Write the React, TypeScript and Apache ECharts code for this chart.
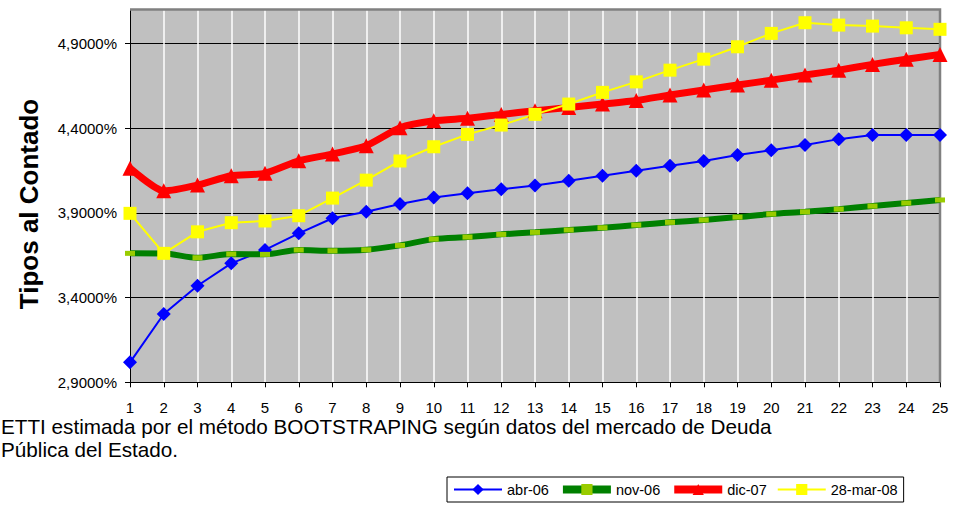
import React, { useEffect, useRef } from "react";
import * as echarts from "echarts";

const categories = ["1","2","3","4","5","6","7","8","9","10","11","12","13","14","15","16","17","18","19","20","21","22","23","24","25"];

const seriesNames = ["abr-06", "nov-06", "dic-07", "28-mar-08"];

const abr06 = [3.018,3.303,3.470,3.602,3.681,3.779,3.868,3.907,3.952,3.990,4.015,4.039,4.062,4.089,4.119,4.148,4.178,4.206,4.241,4.270,4.300,4.335,4.359,4.359,4.359];
const nov06 = [3.661,3.660,3.635,3.657,3.655,3.681,3.676,3.682,3.708,3.745,3.757,3.773,3.785,3.799,3.812,3.828,3.844,3.858,3.875,3.893,3.906,3.922,3.940,3.958,3.976];
const dic07 = [4.163,4.030,4.064,4.119,4.133,4.207,4.247,4.296,4.402,4.443,4.458,4.481,4.502,4.522,4.542,4.563,4.595,4.625,4.654,4.683,4.713,4.742,4.776,4.806,4.835];
const mar08 = [3.897,3.661,3.788,3.842,3.852,3.883,3.987,4.093,4.206,4.290,4.363,4.418,4.481,4.542,4.611,4.673,4.742,4.807,4.880,4.959,5.022,5.008,5.002,4.992,4.983];

const yMin = 2.9;
const yMax = 5.1;
const yStep = 0.5;

const yTitle = "Tipos al Contado";
const captionLines = [
  "ETTI estimada por el método BOOTSTRAPING según datos del mercado de Deuda",
  "Pública del Estado.",
];

const FONT = "'Liberation Sans', Arial, sans-serif";

export default function App() {
  const ref = useRef<HTMLDivElement>(null);
  useEffect(() => {
    if (!ref.current) return;
    const chart = echarts.init(ref.current, undefined, { renderer: "svg" });
    const fmt = (v: number) => v.toFixed(4).replace(".", ",") + "%";
    const baseGraphic: any[] = [
      {
        id: "ytitle",
        type: "text",
        x: 29,
        y: 204,
        rotation: Math.PI / 2,
        style: {
          text: yTitle,
          font: `bold 26px ${FONT}`,
          fill: "#000",
          textAlign: "center",
          textVerticalAlign: "middle",
        },
      },
      {
        id: "cap1",
        type: "text",
        x: 1,
        y: 426,
        style: {
          text: captionLines[0],
          font: `20.7px ${FONT}`,
          fill: "#000",
          textAlign: "left",
          textVerticalAlign: "middle",
        },
      },
      {
        id: "cap2",
        type: "text",
        x: 1,
        y: 449,
        style: {
          text: captionLines[1],
          font: `20.7px ${FONT}`,
          fill: "#000",
          textAlign: "left",
          textVerticalAlign: "middle",
        },
      },
    ];
    chart.setOption({
      animation: false,
      backgroundColor: "#ffffff",
      textStyle: { fontFamily: FONT, color: "#000" },
      grid: {
        left: 130,
        top: 9.5,
        right: 33,
        bottom: 125.7,
        show: true,
        backgroundColor: "#c0c0c0",
        borderColor: "#808080",
        borderWidth: 0,
      },
      legend: {
        data: [
          { name: seriesNames[0] },
          { name: seriesNames[1], lineStyle: { width: 8 } },
          { name: seriesNames[2], lineStyle: { width: 8 } },
          { name: seriesNames[3] },
        ],
        left: 447,
        top: 477,
        orient: "horizontal",
        itemWidth: 48,
        itemHeight: 14,
        itemGap: 10,
        padding: [5, 6, 5, 6],
        borderColor: "#000",
        borderWidth: 1,
        borderRadius: 0,
        backgroundColor: "#fff",
        textStyle: { fontSize: 14.5, color: "#000", fontFamily: FONT },
      },
      xAxis: {
        type: "category",
        data: categories,
        boundaryGap: false,
        axisLine: { show: true, lineStyle: { color: "#000", width: 1 } },
        axisTick: { show: true, length: 5, lineStyle: { color: "#000" } },
        axisLabel: { fontSize: 15, color: "#000", margin: 18, fontFamily: FONT, interval: 0 },
        splitLine: {
          show: true,
          showMinLine: false,
          showMaxLine: false,
          lineStyle: { color: "#ffffff", width: 1.5 },
        },
      },
      yAxis: {
        type: "value",
        min: yMin,
        max: yMax,
        interval: yStep,
        axisLine: { show: true, lineStyle: { color: "#000", width: 1 } },
        axisTick: { show: true, length: 5, lineStyle: { color: "#000" } },
        axisLabel: {
          fontSize: 15,
          color: "#000",
          margin: 13,
          fontFamily: FONT,
          formatter: fmt,
          showMaxLabel: false,
        },
        splitLine: { show: true, showMaxLine: false, lineStyle: { color: "#000", width: 1 } },
      },
      graphic: baseGraphic,
      series: [
        {
          name: seriesNames[0],
          type: "line",
          data: abr06,
          symbol: "diamond",
          symbolSize: 14,
          lineStyle: { color: "#0000ff", width: 2 },
          itemStyle: { color: "#0000ff" },
        },
        {
          name: seriesNames[1],
          type: "line",
          data: nov06,
          symbol: "rect",
          symbolSize: [10, 5],
          smooth: 0.3,
          lineStyle: { color: "#008000", width: 6 },
          itemStyle: { color: "#99cc00" },
        },
        {
          name: seriesNames[2],
          type: "line",
          data: dic07,
          symbol: "triangle",
          symbolSize: 15,
          smooth: 0.2,
          lineStyle: { color: "#ff0000", width: 7 },
          itemStyle: { color: "#ff0000" },
        },
        {
          name: seriesNames[3],
          type: "line",
          data: mar08,
          symbol: "rect",
          symbolSize: 13,
          lineStyle: { color: "#ffff00", width: 2 },
          itemStyle: { color: "#ffff00" },
        },
      ],
    });
    const tl = chart.convertToPixel({ gridIndex: 0 }, [categories[0], yMax]) as number[];
    const tr = chart.convertToPixel({ gridIndex: 0 }, [categories[categories.length - 1], yMax]) as number[];
    const br = chart.convertToPixel({ gridIndex: 0 }, [categories[categories.length - 1], yMin]) as number[];
    if (tl && tr && br) {
      chart.setOption({
        graphic: [
          ...baseGraphic,
          {
            id: "border",
            type: "polyline",
            z: 1,
            silent: true,
            shape: { points: [[tl[0], tl[1]], [tr[0], tr[1]], [br[0], br[1]]] },
            style: { stroke: "#808080", lineWidth: 2.5, fill: null },
          },
        ],
      });
    }
    return () => chart.dispose();
  }, []);
  return (
    <div
      ref={ref}
      style={{ position: "fixed", left: 0, top: 0, width: 973, height: 508 }}
    />
  );
}
